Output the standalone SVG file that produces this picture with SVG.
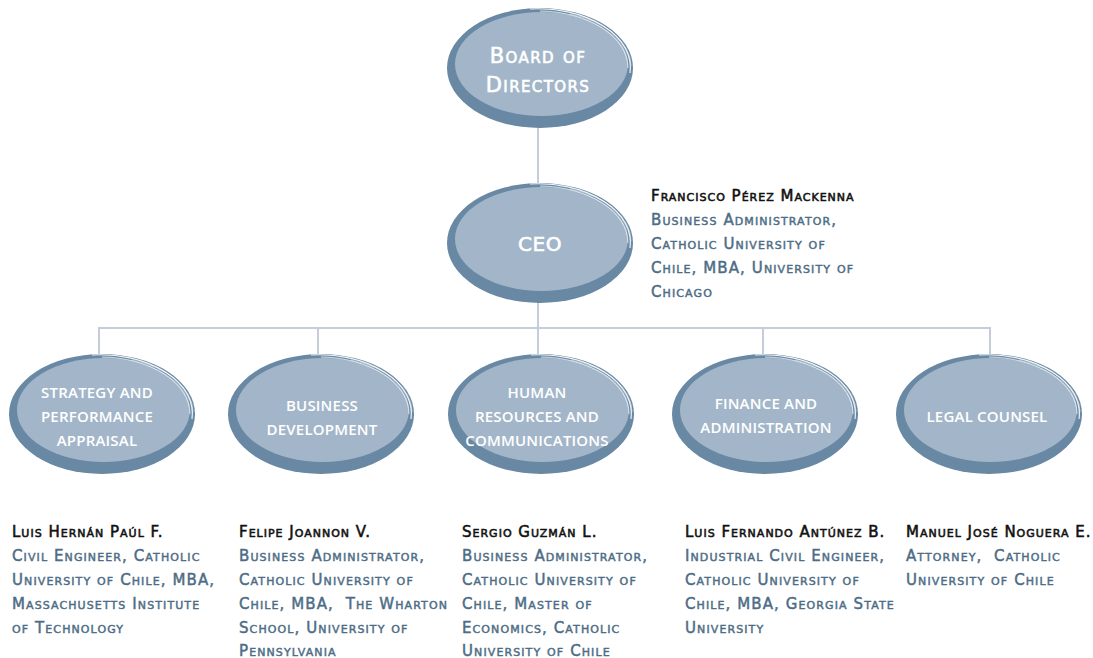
<svg xmlns="http://www.w3.org/2000/svg" xmlns:xlink="http://www.w3.org/1999/xlink" width="1093" height="658" viewBox="0 0 1093 658">
  <style>
    .conn { stroke: #c3ceda; stroke-width: 2; fill: none; }
    .title { font-family: "DejaVu Sans", "Open Sans", sans-serif; font-weight: 400; fill: #ffffff; stroke: #ffffff; stroke-width: 0.6px; text-anchor: middle; font-variant: small-caps; letter-spacing: 1.4px; }
    .unit { font-family: "Open Sans", "Liberation Sans", sans-serif; font-weight: 600; font-size: 15px; fill: #ffffff; text-anchor: middle; letter-spacing: 0.2px; }
    .name { font-family: "DejaVu Sans", "Open Sans", sans-serif; font-weight: 400; font-size: 15px; fill: #111111; stroke: #111111; stroke-width: 0.55px; font-variant: small-caps; letter-spacing: 1px; }
    .bio { font-family: "DejaVu Sans", "Open Sans", sans-serif; font-weight: 400; font-size: 15px; fill: #4d6c85; stroke: #4d6c85; stroke-width: 0.45px; font-variant: small-caps; letter-spacing: 1.1px; }
  </style>
  <defs>
    <!-- oval badge centred on (0,0): dark rim, light face, white gloss on the upper right -->
    <g id="bubble">
      <ellipse cx="0" cy="0" rx="93" ry="60" fill="#6888a3"/>
      <ellipse cx="1.5" cy="-4" rx="86.5" ry="52" fill="#a3b6c9"/>
      <path d="M -10 -59 A 92 59 0 0 1 90 5" fill="none" stroke="#ffffff" stroke-width="1.2" opacity="0.9"/>
      <path d="M 0 -57 A 90 57 0 0 1 88 0" fill="none" stroke="#ffffff" stroke-width="1" opacity="0.7"/>
      <path d="M 30 -54 A 88 55 0 0 1 91 -2" fill="none" stroke="#ffffff" stroke-width="0.8" opacity="0.6"/>
    </g>
  </defs>

  <rect width="1093" height="658" fill="#ffffff"/>

  <g id="connectors">
    <line class="conn" x1="538" y1="126" x2="538" y2="185"/>
    <line class="conn" x1="538" y1="302" x2="538" y2="328"/>
    <line class="conn" x1="99" y1="328" x2="990" y2="328"/>
    <line class="conn" x1="99" y1="327" x2="99" y2="358"/>
    <line class="conn" x1="318" y1="327" x2="318" y2="358"/>
    <line class="conn" x1="538" y1="327" x2="538" y2="358"/>
    <line class="conn" x1="763" y1="327" x2="763" y2="358"/>
    <line class="conn" x1="990" y1="327" x2="990" y2="358"/>
  </g>

  <g id="board">
    <use xlink:href="#bubble" transform="translate(540 68)"/>
    <text class="title" font-size="21" x="538" y="63">Board of</text>
    <text class="title" font-size="21" x="538" y="92">Directors</text>
  </g>

  <g id="ceo">
    <use xlink:href="#bubble" transform="translate(540 243)"/>
    <text class="title" font-size="20" x="540" y="251" style="letter-spacing:0.6px">CEO</text>
  </g>

  <g id="ceo-profile">
    <text class="name" x="651" y="201">Francisco Pérez Mackenna</text>
    <text class="bio" x="651" y="225">Business Administrator,</text>
    <text class="bio" x="651" y="249">Catholic University of</text>
    <text class="bio" x="651" y="273">Chile, MBA, University of</text>
    <text class="bio" x="651" y="297">Chicago</text>
  </g>

  <g id="strategy">
    <use xlink:href="#bubble" transform="translate(102 414)"/>
    <text class="unit" x="97" y="398">STRATEGY AND</text>
    <text class="unit" x="97" y="422">PERFORMANCE</text>
    <text class="unit" x="97" y="446">APPRAISAL</text>
  </g>

  <g id="business">
    <use xlink:href="#bubble" transform="translate(321 414)"/>
    <text class="unit" x="322" y="411">BUSINESS</text>
    <text class="unit" x="322" y="435">DEVELOPMENT</text>
  </g>

  <g id="human-resources">
    <use xlink:href="#bubble" transform="translate(541 414)"/>
    <text class="unit" x="537" y="398">HUMAN</text>
    <text class="unit" x="537" y="422">RESOURCES AND</text>
    <text class="unit" x="537" y="446">COMMUNICATIONS</text>
  </g>

  <g id="finance">
    <use xlink:href="#bubble" transform="translate(765 414)"/>
    <text class="unit" x="766" y="409">FINANCE AND</text>
    <text class="unit" x="766" y="433">ADMINISTRATION</text>
  </g>

  <g id="legal">
    <use xlink:href="#bubble" transform="translate(989 414)"/>
    <text class="unit" x="987" y="422">LEGAL COUNSEL</text>
  </g>

  <g id="profile-strategy">
    <text class="name" x="12" y="537">Luis Hernán Paúl F.</text>
    <text class="bio" x="12" y="561">Civil Engineer, Catholic</text>
    <text class="bio" x="12" y="585">University of Chile, MBA,</text>
    <text class="bio" x="12" y="609">Massachusetts Institute</text>
    <text class="bio" x="12" y="633">of Technology</text>
  </g>

  <g id="profile-business">
    <text class="name" x="239" y="537">Felipe Joannon V.</text>
    <text class="bio" x="239" y="561">Business Administrator,</text>
    <text class="bio" x="239" y="585">Catholic University of</text>
    <text class="bio" x="239" y="609" xml:space="preserve">Chile, MBA,  The Wharton</text>
    <text class="bio" x="239" y="633">School, University of</text>
    <text class="bio" x="239" y="656">Pennsylvania</text>
  </g>

  <g id="profile-hr">
    <text class="name" x="462" y="537">Sergio Guzmán L.</text>
    <text class="bio" x="462" y="561">Business Administrator,</text>
    <text class="bio" x="462" y="585">Catholic University of</text>
    <text class="bio" x="462" y="609">Chile, Master of</text>
    <text class="bio" x="462" y="633">Economics, Catholic</text>
    <text class="bio" x="462" y="656">University of Chile</text>
  </g>

  <g id="profile-finance">
    <text class="name" x="685" y="537">Luis Fernando Antúnez B.</text>
    <text class="bio" x="685" y="561">Industrial Civil Engineer,</text>
    <text class="bio" x="685" y="585">Catholic University of</text>
    <text class="bio" x="685" y="609">Chile, MBA, Georgia State</text>
    <text class="bio" x="685" y="633">University</text>
  </g>

  <g id="profile-legal">
    <text class="name" x="906" y="537">Manuel José Noguera E.</text>
    <text class="bio" x="906" y="561" xml:space="preserve">Attorney,  Catholic</text>
    <text class="bio" x="906" y="585">University of Chile</text>
  </g>
</svg>
